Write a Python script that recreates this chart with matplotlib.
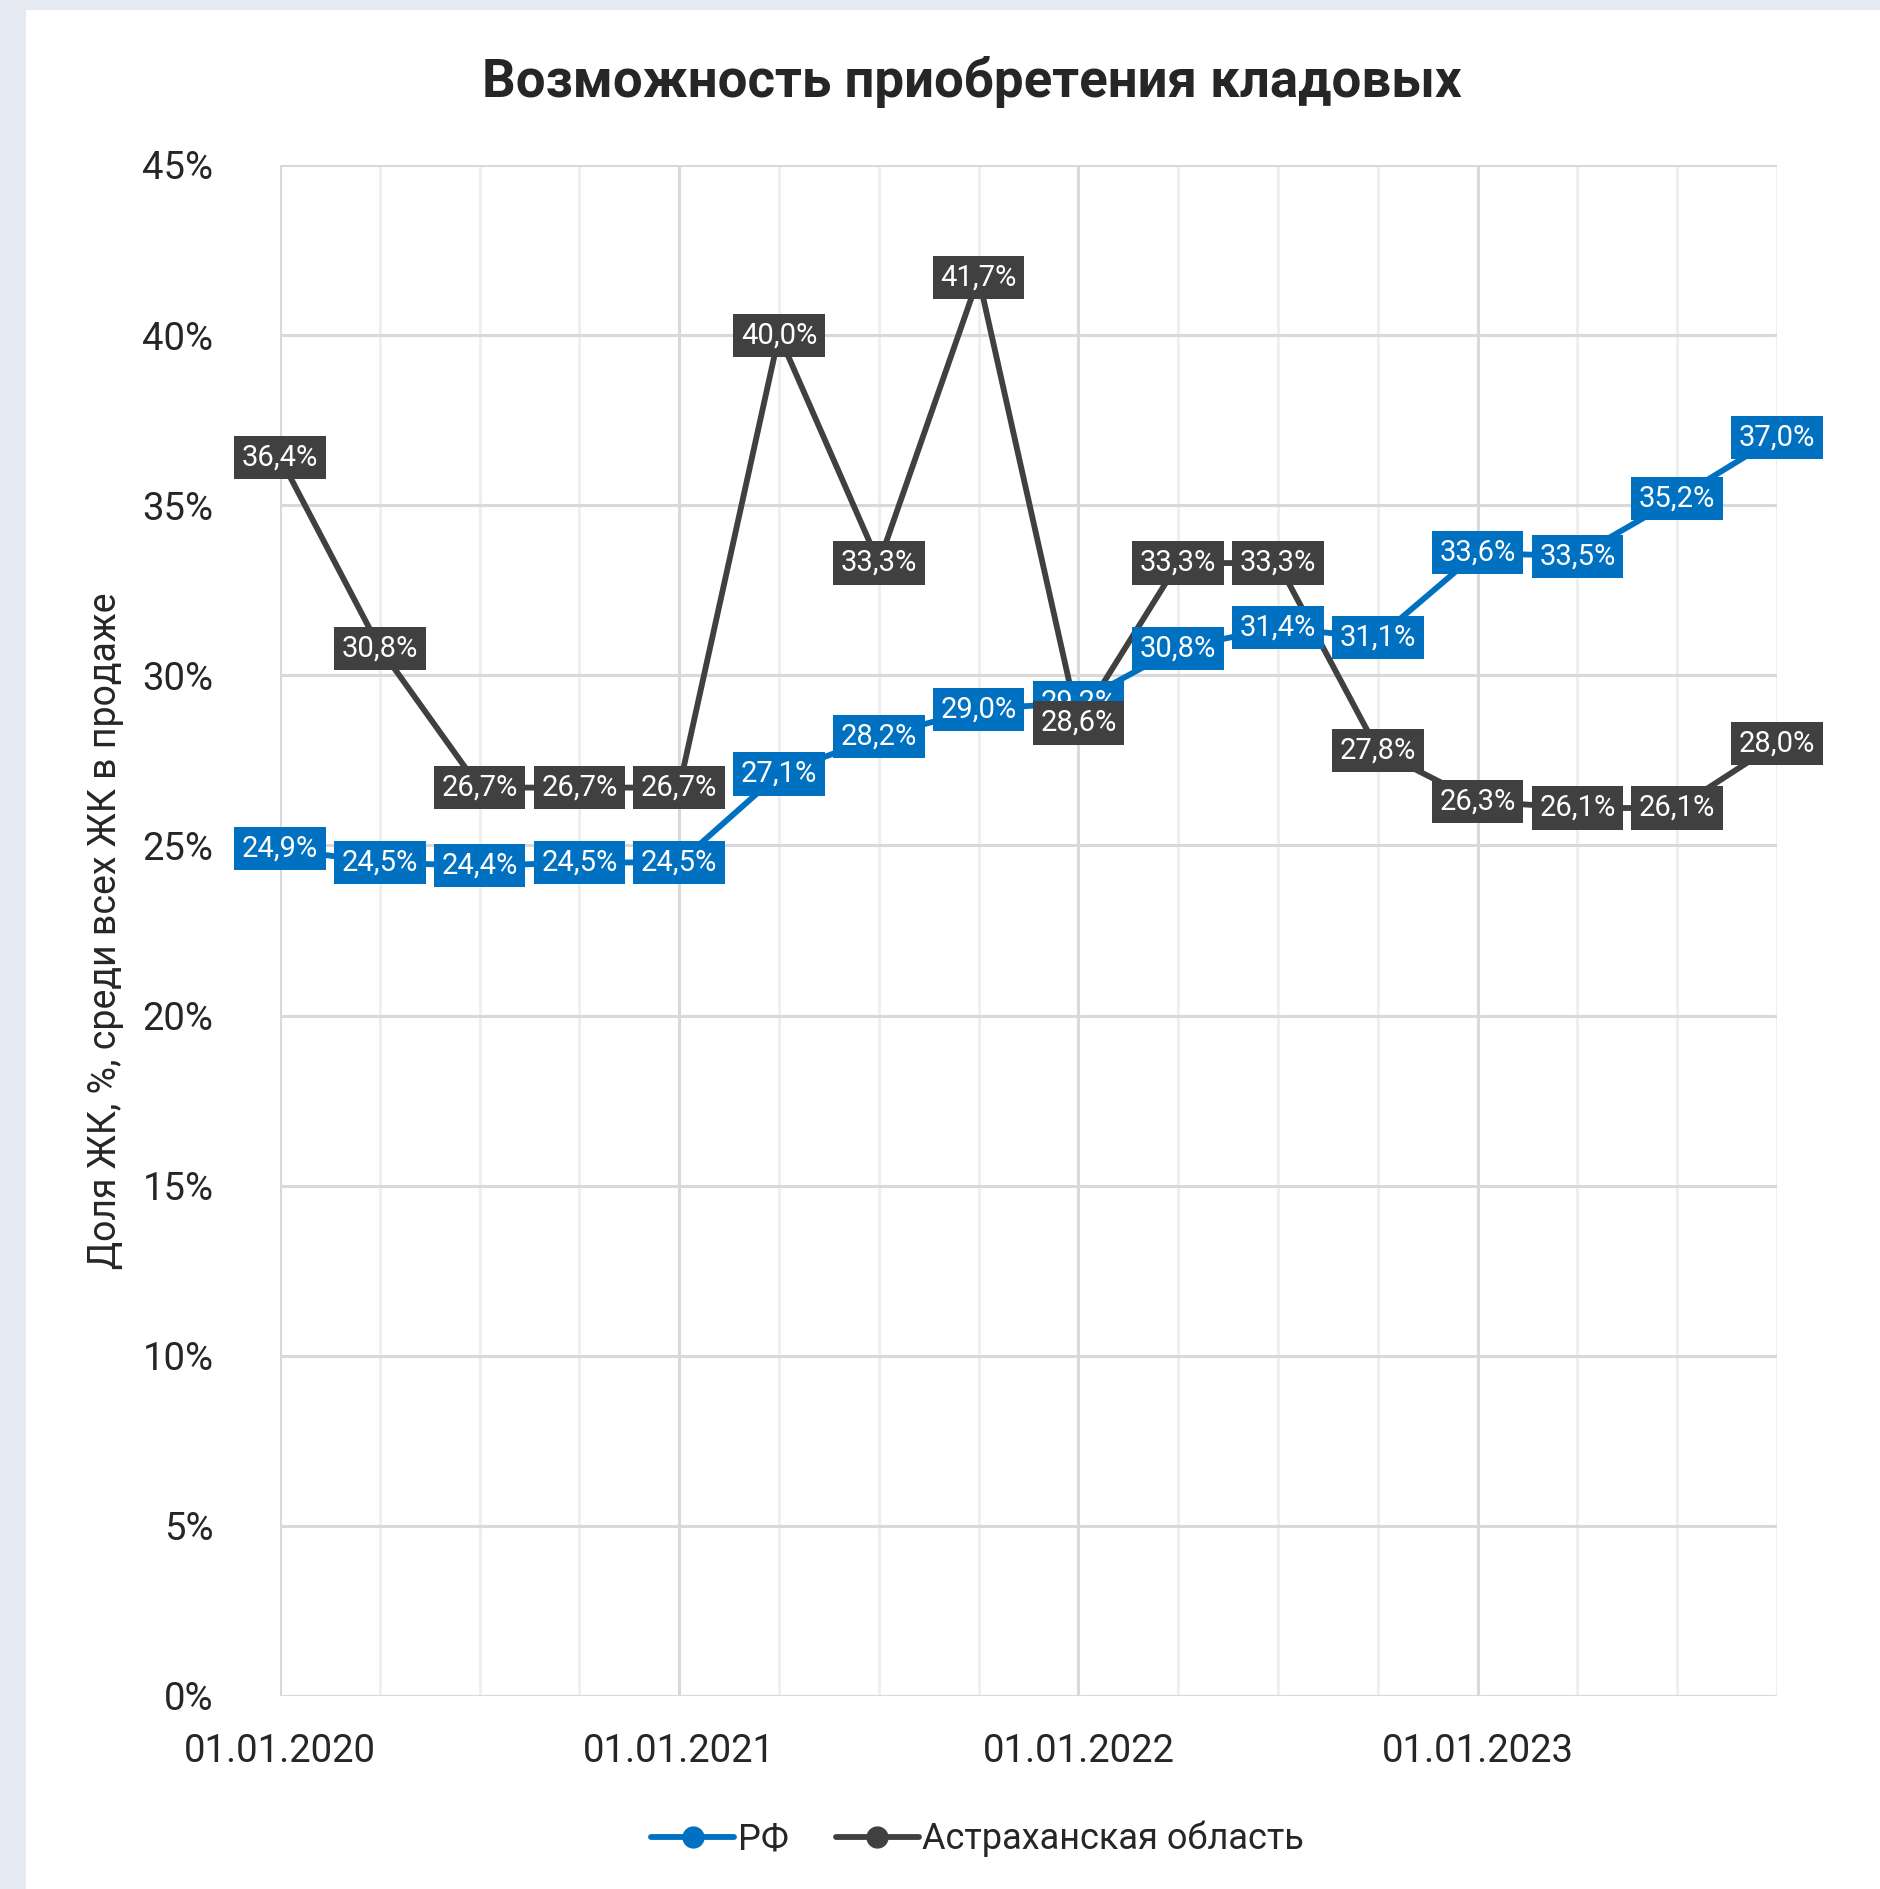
import matplotlib
matplotlib.use("Agg")
import matplotlib.pyplot as plt
from matplotlib.patches import Rectangle
from matplotlib.lines import Line2D

plt.rcParams['font.family'] = ['Roboto', 'DejaVu Sans']

# quarterly dates, 2020-2023
dates = ['01.01.2020', '01.04.2020', '01.07.2020', '01.10.2020',
         '01.01.2021', '01.04.2021', '01.07.2021', '01.10.2021',
         '01.01.2022', '01.04.2022', '01.07.2022', '01.10.2022',
         '01.01.2023', '01.04.2023', '01.07.2023', '01.10.2023']
rf = [24.9, 24.5, 24.4, 24.5, 24.5, 27.1, 28.2, 29.0,
      29.2, 30.8, 31.4, 31.1, 33.6, 33.5, 35.2, 37.0]
astrakhan = [36.4, 30.8, 26.7, 26.7, 26.7, 40.0, 33.3, 41.7,
             28.6, 33.3, 33.3, 27.8, 26.3, 26.1, 26.1, 28.0]
series_names = ['РФ', 'Астраханская область']
yticks = [0, 5, 10, 15, 20, 25, 30, 35, 40, 45]

blue = '#0070c0'
dark = '#404040'
text_col = '#262626'

fig = plt.figure(figsize=(18.8, 18.89), dpi=100)
fig.patch.set_facecolor('#e5e9f1')
fig.patches.append(Rectangle((26 / 1880, 0), 1, 1 - 10 / 1889, transform=fig.transFigure,
                             facecolor='white', edgecolor='none', zorder=-10))

ax = fig.add_axes([280 / 1880, 1 - 1696 / 1889, 1497 / 1880, 1531 / 1889])
ax.set_facecolor('none')

x = list(range(len(dates)))
ax.set_xlim(0, len(dates) - 1)
ax.set_ylim(0, 45)

# grid
for xi in x:
    col = '#d9d9d9' if dates[xi].startswith('01.01') else '#efefef'
    ax.axvline(xi, color=col, lw=2.2, zorder=1)
for yt in yticks:
    ax.axhline(yt, color='#d9d9d9', lw=2.2, zorder=1)
for s in ax.spines.values():
    s.set_visible(False)

ax.plot(x, rf, color=blue, lw=4.2, marker='o', ms=8, zorder=3, solid_capstyle='round')
ax.plot(x, astrakhan, color=dark, lw=4.2, marker='o', ms=8, zorder=3, solid_capstyle='round')

# data labels, centred on the points (regional ones on top)
def labels(vals, col, z):
    for xi, v in zip(x, vals):
        ax.text(xi, v, f"{v:.1f}%".replace('.', ','), ha='center', va='center',
                fontsize=21, color='white', zorder=z,
                bbox=dict(boxstyle='square,pad=0.26', facecolor=col, edgecolor='none'))

labels(rf, blue, 5)
labels(astrakhan, dark, 6)

year_idx = [i for i, d in enumerate(dates) if d.startswith('01.01')]
ax.set_xticks(year_idx)
ax.set_xticklabels([dates[i] for i in year_idx])
ax.set_yticks(yticks)
ax.set_yticklabels([f"{t}%" for t in yticks])
ax.tick_params(axis='both', length=0, labelsize=27.5, colors=text_col)
ax.tick_params(axis='y', pad=48)
ax.tick_params(axis='x', pad=27)

fig.text(106 / 1880, 1 - 931 / 1889, 'Доля ЖК, %, среди всех ЖК в продаже', rotation=90,
         ha='center', va='center', fontsize=27, color=text_col)
fig.text(972 / 1880, 1 - 82 / 1889, 'Возможность приобретения кладовых', ha='center', va='center',
         fontsize=38, fontweight='bold', color=text_col)

handles = [Line2D([], [], color=blue, lw=4.2, marker='o', ms=15, solid_capstyle='round'),
           Line2D([], [], color=dark, lw=4.2, marker='o', ms=15, solid_capstyle='round')]
fig.legend(handles, series_names, loc='center', bbox_to_anchor=(0.52, 1 - 1839 / 1889),
           ncol=2, frameon=False, fontsize=26, handlelength=2.3, handletextpad=0.1,
           columnspacing=1.3, labelcolor=text_col)

fig.savefig('out.png', dpi=100)
